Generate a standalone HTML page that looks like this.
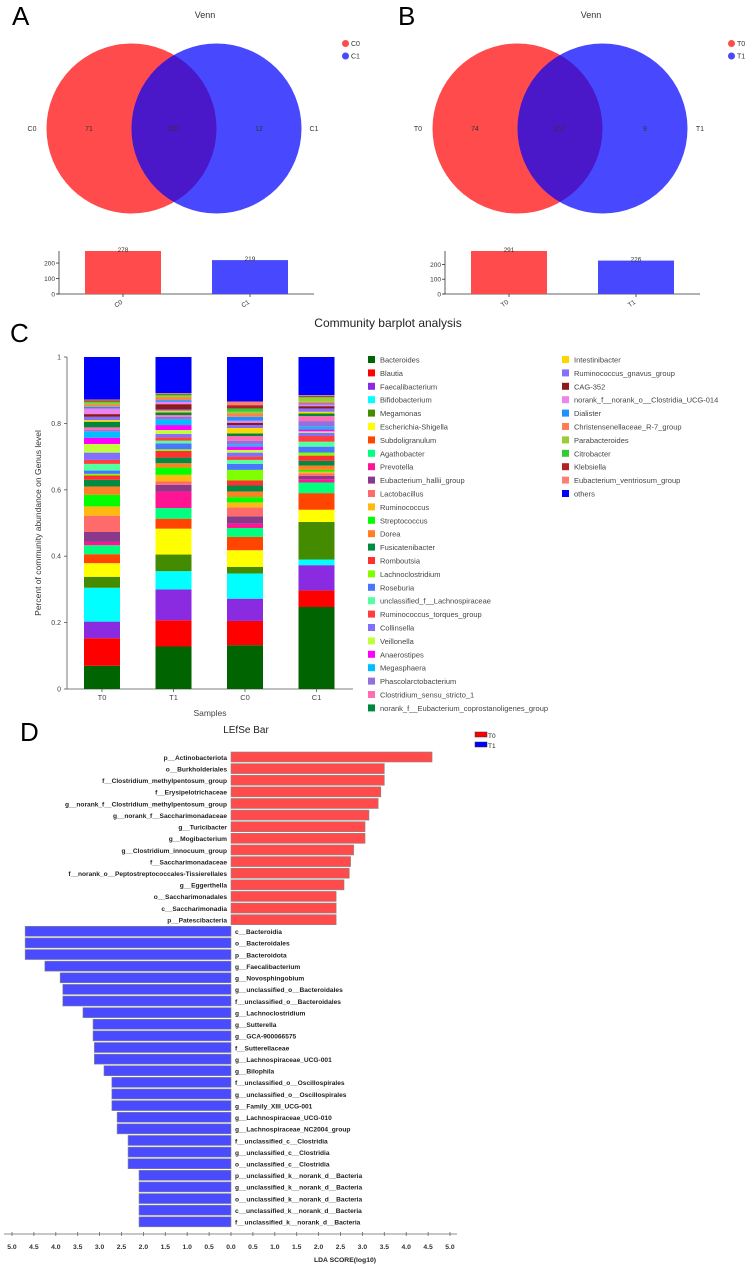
<!DOCTYPE html>
<html><head><meta charset="utf-8">
<style>
html,body{margin:0;padding:0;background:#fff;}
svg{display:block;font-family:"Liberation Sans",Arial,sans-serif;}
</style></head>
<body>
<svg id="fig" width="750" height="1265" viewBox="0 0 750 1265" xmlns="http://www.w3.org/2000/svg">
<defs>
<clipPath id="clipA"><circle cx="131.5" cy="128.5" r="85"/></clipPath>
<clipPath id="clipB"><circle cx="517.5" cy="128.5" r="85"/></clipPath>
</defs>
<g id="root"></g>
</svg>
<script>
// ---------- Panel A/B data ----------
const vennAGroups = ["C0","C1"];
const vennAValues = [71, 207, 12];
const vennATotals = [278, 219];
const vennBGroups = ["T0","T1"];
const vennBValues = [74, 217, 9];
const vennBTotals = [291, 226];

// ---------- Panel C data ----------
const samples = ["T0","T1","C0","C1"];
const genera = ["Bacteroides","Blautia","Faecalibacterium","Bifidobacterium","Megamonas","Escherichia-Shigella","Subdoligranulum","Agathobacter","Prevotella","Eubacterium_hallii_group","Lactobacillus","Ruminococcus","Streptococcus","Dorea","Fusicatenibacter","Romboutsia","Lachnoclostridium","Roseburia","unclassified_f__Lachnospiraceae","Ruminococcus_torques_group","Collinsella","Veillonella","Anaerostipes","Megasphaera","Phascolarctobacterium","Clostridium_sensu_stricto_1","norank_f__Eubacterium_coprostanoligenes_group","Intestinibacter","Ruminococcus_gnavus_group","CAG-352","norank_f__norank_o__Clostridia_UCG-014","Dialister","Christensenellaceae_R-7_group","Parabacteroides","Citrobacter","Klebsiella","Eubacterium_ventriosum_group","others"];
const generaColors = ["#006400","#ff0000","#8a2be2","#00ffff","#458b00","#ffff00","#ff4500","#00ff7f","#ff1493","#8b3a8b","#ff6a6a","#ffb90f","#00ff00","#ff7f24","#008b45","#ff3030","#7fff00","#4876ff","#54ff9f","#ff3e3e","#836fff","#c0ff3e","#ff00ff","#00bfff","#9370db","#ff6eb4","#00873c","#ffd700","#8470ff","#8b1a1a","#ee82ee","#1e90ff","#ff7f50","#9acd32","#32cd32","#b22222","#fa8072","#0000ff"];
// cumulative tops (fraction) per genus for each sample, last = others (1.0)
const cumT0 = [0.07,0.153,0.203,0.305,0.338,0.379,0.406,0.433,0.443,0.473,0.522,0.55,0.585,0.61,0.63,0.643,0.648,0.658,0.678,0.69,0.712,0.738,0.757,0.775,0.78,0.788,0.805,0.81,0.82,0.828,0.845,0.85,0.857,0.862,0.866,0.869,0.872,1];
const cumT1 = [0.128,0.207,0.3,0.355,0.405,0.483,0.513,0.545,0.595,0.615,0.625,0.645,0.667,0.68,0.697,0.717,0.722,0.74,0.748,0.758,0.768,0.78,0.795,0.812,0.82,0.825,0.833,0.838,0.842,0.858,0.865,0.87,0.878,0.884,0.887,0.889,0.891,1];
const cumC0 = [0.132,0.205,0.272,0.348,0.368,0.418,0.458,0.485,0.498,0.52,0.547,0.562,0.578,0.595,0.613,0.628,0.66,0.678,0.69,0.7,0.712,0.72,0.73,0.736,0.748,0.762,0.77,0.786,0.795,0.802,0.808,0.82,0.83,0.835,0.845,0.855,0.866,1];
const cumC1 = [0.247,0.297,0.373,0.39,0.503,0.54,0.59,0.622,0.632,0.642,0.65,0.655,0.66,0.673,0.687,0.703,0.712,0.73,0.745,0.762,0.772,0.776,0.782,0.79,0.807,0.822,0.83,0.835,0.845,0.852,0.857,0.86,0.865,0.878,0.88,0.883,0.885,1];
const yTicksC = [0,0.2,0.4,0.6,0.8,1];
const yTickLabelsC = ["0","0.2","0.4","0.6","0.8","1"];

// ---------- Panel D data ----------
const ldaLabels = ["p__Actinobacteriota","o__Burkholderiales","f__Clostridium_methylpentosum_group","f__Erysipelotrichaceae","g__norank_f__Clostridium_methylpentosum_group","g__norank_f__Saccharimonadaceae","g__Turicibacter","g__Mogibacterium","g__Clostridium_innocuum_group","f__Saccharimonadaceae","f__norank_o__Peptostreptococcales-Tissierellales","g__Eggerthella","o__Saccharimonadales","c__Saccharimonadia","p__Patescibacteria","c__Bacteroidia","o__Bacteroidales","p__Bacteroidota","g__Faecalibacterium","g__Novosphingobium","g__unclassified_o__Bacteroidales","f__unclassified_o__Bacteroidales","g__Lachnoclostridium","g__Sutterella","g__GCA-900066575","f__Sutterellaceae","g__Lachnospiraceae_UCG-001","g__Bilophila","f__unclassified_o__Oscillospirales","g__unclassified_o__Oscillospirales","g__Family_XIII_UCG-001","g__Lachnospiraceae_UCG-010","g__Lachnospiraceae_NC2004_group","f__unclassified_c__Clostridia","g__unclassified_c__Clostridia","o__unclassified_c__Clostridia","p__unclassified_k__norank_d__Bacteria","g__unclassified_k__norank_d__Bacteria","o__unclassified_k__norank_d__Bacteria","c__unclassified_k__norank_d__Bacteria","f__unclassified_k__norank_d__Bacteria"];
const ldaScores = [4.59,3.5,3.5,3.42,3.36,3.15,3.06,3.06,2.8,2.73,2.7,2.58,2.4,2.4,2.4,4.7,4.7,4.7,4.25,3.9,3.84,3.84,3.38,3.15,3.15,3.12,3.12,2.9,2.72,2.72,2.72,2.6,2.6,2.35,2.35,2.35,2.1,2.1,2.1,2.1,2.1];
const ldaGroups = ["T0","T0","T0","T0","T0","T0","T0","T0","T0","T0","T0","T0","T0","T0","T0","T1","T1","T1","T1","T1","T1","T1","T1","T1","T1","T1","T1","T1","T1","T1","T1","T1","T1","T1","T1","T1","T1","T1","T1","T1","T1"];
const ldaTicks = [-5,-4.5,-4,-3.5,-3,-2.5,-2,-1.5,-1,-0.5,0,0.5,1,1.5,2,2.5,3,3.5,4,4.5,5];

const NS="http://www.w3.org/2000/svg";
const root=document.getElementById('root');
function mk(tag,attrs,parent,text){const e=document.createElementNS(NS,tag);for(const k in attrs)e.setAttribute(k,attrs[k]);if(text!==undefined)e.textContent=text;(parent||root).appendChild(e);return e;}

// ---------- Venn panels ----------
function venn(off,letter,groups,vals,totals,clipId){
  const g=mk('g',{});
  
  
  let t=mk('text',{x:off+12,y:25,'font-size':26},g,letter);
  
  
  t=mk('text',{x:off+205,y:18,'font-size':9,fill:'#333','text-anchor':'middle'},g,'Venn');
  
  
  const cx1=off+131.5,cx2=off+216.5,cy=128.5,r=85;
  let c=mk('circle',{cx:cx1,cy:cy,r:r,fill:'#ff4b4b'},g);
  
  
  c=mk('circle',{cx:cx2,cy:cy,r:r,fill:'#4848ff'},g);
  
  
  c=mk('circle',{cx:cx2,cy:cy,r:r,fill:'#4a17c9','clip-path':'url(#'+clipId+')'},g);
  
  
  const labs=[[off+32,groups[0]],[off+89,vals[0]],[off+174,vals[1]],[off+259,vals[2]],[off+314,groups[1]]];
  labs.forEach((l,i)=>{const e=mk('text',{x:l[0],y:131,'font-size':7,fill:'#333','text-anchor':'middle'},g,String(l[1]));
    
    });
  groups.forEach((gr,i)=>{
    const le=mk('g',{},g);
    
    
    mk('circle',{cx:off+345.5,cy:43.5+i*12.5,r:3.5,fill:i?'#4848ff':'#ff4b4b'},le);
    mk('text',{x:off+351,y:46+i*12.5,'font-size':7,fill:'#333'},le,gr);
  });
  const ax=off+59,y0=294,ytop=251,mx=Math.max(...totals);
  const ys=v=>y0-(v/mx)*(y0-ytop);
  mk('line',{x1:ax,y1:ytop,x2:ax,y2:y0,stroke:'#333','stroke-width':0.8},g);
  mk('line',{x1:ax-2,y1:y0,x2:off+314,y2:y0,stroke:'#333','stroke-width':0.8},g);
  [0,100,200].forEach(v=>{mk('line',{x1:ax-3,y1:ys(v),x2:ax,y2:ys(v),stroke:'#333','stroke-width':0.8},g);
    const e=mk('text',{x:ax-4,y:ys(v)+2.5,'font-size':6.5,fill:'#333','text-anchor':'end'},g,String(v));
    
    });
  const bx=[off+85,off+212];
  totals.forEach((v,i)=>{
    const b=mk('rect',{x:bx[i],y:ys(v),width:76,height:y0-ys(v),fill:i?'#4848ff':'#ff4b4b'},g);
    
    
    const e=mk('text',{x:bx[i]+38,y:ys(v)+1,'font-size':6.5,fill:'#333','text-anchor':'middle'},g,String(v));
    
    
    mk('line',{x1:bx[i]+38,y1:y0,x2:bx[i]+38,y2:y0+3,stroke:'#333','stroke-width':0.8},g);
    const xl=mk('text',{x:bx[i]+38,y:y0+9,'font-size':6.5,fill:'#333','text-anchor':'end',transform:'rotate(-35 '+(bx[i]+38)+' '+(y0+9)+')'},g,groups[i]);
    
    
  });
}
venn(0,'A',vennAGroups,vennAValues,vennATotals,'clipA');
venn(386,'B',vennBGroups,vennBValues,vennBTotals,'clipB');

// ---------- Panel C ----------
(function(){
  const g=mk('g',{});
  
  
  let t=mk('text',{x:10,y:342,'font-size':26},g,'C');
  
  
  t=mk('text',{x:388,y:327,'font-size':12,fill:'#222','text-anchor':'middle'},g,'Community barplot analysis');
  
  
  const y0=689,y1=357,ax=67;
  const ys=v=>y0-v*(y0-y1);
  mk('line',{x1:ax,y1:y1,x2:ax,y2:y0,stroke:'#555','stroke-width':0.8},g);
  mk('line',{x1:ax,y1:y0,x2:353,y2:y0,stroke:'#555','stroke-width':0.8},g);
  yTicksC.forEach((v,i)=>{mk('line',{x1:ax-3,y1:ys(v),x2:ax,y2:ys(v),stroke:'#555','stroke-width':0.8},g);
    const e=mk('text',{x:ax-6,y:ys(v)+2.5,'font-size':7,fill:'#444','text-anchor':'end'},g,yTickLabelsC[i]);
    
    });
  t=mk('text',{x:41,y:523,'font-size':8.5,fill:'#333','text-anchor':'middle',transform:'rotate(-90 41 523)'},g,'Percent of community abundance on Genus level');
  
  
  t=mk('text',{x:210,y:716,'font-size':8.5,fill:'#444','text-anchor':'middle'},g,'Samples');
  
  
  const cums=[cumT0,cumT1,cumC0,cumC1];
  const bw=36,step=71.5,bx0=84;
  samples.forEach((s,si)=>{
    const x=bx0+si*step;
    const bg=mk('g',{},g);
    
    
    let prev=0;
    cums[si].forEach((top,gi)=>{
      const r=mk('rect',{x:x,y:ys(top),width:bw,height:Math.max(0,ys(prev)-ys(top)),fill:generaColors[gi]},bg);
      
      
      prev=top;
    });
    mk('line',{x1:x+bw/2,y1:y0,x2:x+bw/2,y2:y0+3,stroke:'#555','stroke-width':0.8},g);
    const e=mk('text',{x:x+bw/2,y:y0+11,'font-size':7.5,fill:'#444','text-anchor':'middle'},g,s);
    
    
  });
  genera.forEach((n,i)=>{
    const col=i<27?0:1;const row=col?i-27:i;
    const lx=col?562:368, ly=356+row*13.4;
    const le=mk('g',{},g);
    
    
    mk('rect',{x:lx,y:ly,width:7,height:7,fill:generaColors[i]},le);
    mk('text',{x:lx+12,y:ly+6.5,'font-size':7.5,fill:'#444'},le,n);
  });
})();

// ---------- Panel D ----------
(function(){
  const g=mk('g',{});
  
  
  let t=mk('text',{x:20,y:741,'font-size':26},g,'D');
  
  
  t=mk('text',{x:246,y:733,'font-size':10,fill:'#222','text-anchor':'middle'},g,'LEfSe Bar');
  
  
  const x0=231,unit=43.8,rowY0=752,rowStep=11.62,axY=1234;
  const xs=v=>x0+v*unit;
  ldaLabels.forEach((lab,i)=>{
    const y=rowY0+i*rowStep;const v=ldaScores[i];const isT0=ldaGroups[i]==='T0';
    const xa=isT0?xs(0):xs(-v), w=v*unit;
    const r=mk('rect',{x:xa,y:y,width:w,height:10,fill:isT0?'#ff4b4b':'#4a4aff',stroke:'#888','stroke-width':0.6},g);
    
    
    const e=mk('text',{x:isT0?227:235,y:y+7.8,'font-size':6.6,'font-weight':'bold',fill:'#222','text-anchor':isT0?'end':'start'},g,lab);
    
    
  });
  mk('line',{x1:4,y1:axY,x2:457,y2:axY,stroke:'#666','stroke-width':0.8},g);
  ldaTicks.forEach(v=>{
    mk('line',{x1:xs(v),y1:axY-2,x2:xs(v),y2:axY+2,stroke:'#666','stroke-width':0.8},g);
    const e=mk('text',{x:xs(v),y:axY+15,'font-size':6.8,'font-weight':'bold',fill:'#333','text-anchor':'middle'},g,Math.abs(v).toFixed(1));
    
    
  });
  t=mk('text',{x:345,y:1262,'font-size':6.8,'font-weight':'bold',fill:'#222','text-anchor':'middle'},g,'LDA SCORE(log10)');
  
  
  ['T0','T1'].forEach((s,i)=>{
    const le=mk('g',{},g);
    
    
    mk('rect',{x:475,y:732+i*10,width:12,height:5,fill:i?'#0000ff':'#ff0000',stroke:'#333','stroke-width':0.5},le);
    mk('text',{x:488,y:738+i*10,'font-size':6.5,fill:'#222'},le,s);
  });
})();
</script>
</body></html>
